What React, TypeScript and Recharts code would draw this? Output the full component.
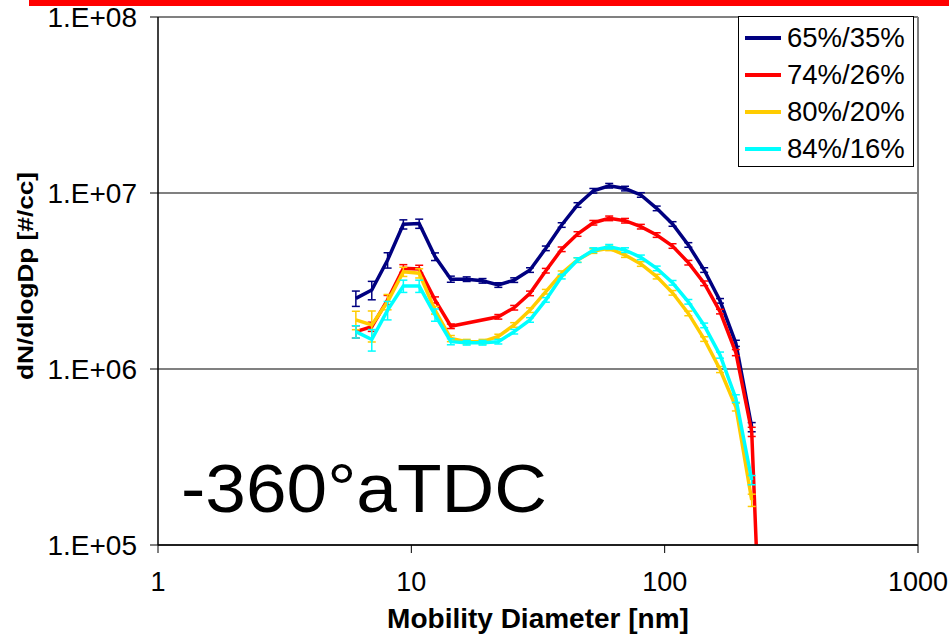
import { LineChart, Line, XAxis, YAxis, CartesianGrid, Legend, ErrorBar, ReferenceLine, Label } from 'recharts'

const FONT = 'Arial, "Liberation Sans", sans-serif'

// mobility diameter bins [nm]
const diameters = [6.04, 6.98, 8.06, 9.3, 10.74, 12.4, 14.32, 16.54, 19.1, 22.05, 25.47, 29.41, 33.96, 39.22, 45.29, 52.3, 60.4, 69.75, 80.54, 93.01, 107.4, 124.0, 143.2, 165.4, 191.0, 220.6, 254.7]

// dN/dlogDp [#/cc]
const mix65 = [2.52e6, 2.81e6, 4.16e6, 6.64e6, 6.7e6, 4.35e6, 3.24e6, 3.24e6, 3.17e6, 3.0e6, 3.2e6, 3.65e6, 4.85e6, 6.58e6, 8.55e6, 1.03e7, 1.1e7, 1.06e7, 9.75e6, 8.18e6, 6.67e6, 5.07e6, 3.65e6, 2.44e6, 1.4e6, 4.68e5, null]
const mix74 = [1.63e6, 1.74e6, 2.47e6, 3.73e6, 3.7e6, 2.47e6, 1.75e6, null, null, 1.98e6, 2.23e6, 2.69e6, 3.62e6, 4.79e6, 5.85e6, 6.78e6, 7.18e6, 6.96e6, 6.44e6, 5.77e6, 5.0e6, 4.02e6, 3.07e6, 2.12e6, 1.24e6, 4.4e5, 2.5e3]
const mix80 = [1.9e6, 1.78e6, 2.41e6, 3.57e6, 3.5e6, 2.16e6, 1.49e6, 1.43e6, 1.43e6, 1.53e6, 1.78e6, 2.16e6, 2.75e6, 3.5e6, 4.16e6, 4.68e6, 4.85e6, 4.44e6, 3.95e6, 3.35e6, 2.71e6, 2.07e6, 1.48e6, 9.94e5, 6.08e5, 1.8e5, null]
const mix84 = [1.63e6, 1.47e6, 2.16e6, 2.96e6, 2.96e6, 2.03e6, 1.43e6, 1.41e6, 1.41e6, 1.43e6, 1.63e6, 1.9e6, 2.47e6, 3.35e6, 4.16e6, 4.74e6, 4.95e6, 4.74e6, 4.31e6, 3.73e6, 3.09e6, 2.41e6, 1.77e6, 1.2e6, 6.8e5, 2.34e5, null]

// error bar half-height, percent of value
const err65 = [10, 12, 10, 6, 6, 5, 4, 3, 3, 3, 3, 3, 3, 3, 3, 3, 3, 3, 3, 3, 3, 3, 3, 3, 4, 6, null]
const err74 = [8, 6, 6, 5, 5, 4, 3, null, null, 3, 3, 3, 3, 3, 3, 3, 3, 3, 3, 3, 3, 3, 3, 3, 4, 6, null]
const err80 = [12, 20, 10, 6, 6, 5, 4, 3, 3, 3, 3, 3, 3, 3, 3, 3, 3, 3, 3, 3, 3, 3, 3, 4, 5, 8, null]
const err84 = [8, 14, 12, 8, 8, 8, 4, 3, 3, 3, 3, 3, 3, 3, 3, 3, 3, 3, 3, 3, 3, 3, 3, 4, 5, 6, null]

const xTicks = [1, 10, 100, 1000]
const yTicks = [1e5, 1e6, 1e7, 1e8]

const series = [
  { key: 's65', err: 'e65', name: '65%/35%', color: '#000080', values: mix65, errs: err65 },
  { key: 's74', err: 'e74', name: '74%/26%', color: '#ff0000', values: mix74, errs: err74 },
  { key: 's80', err: 'e80', name: '80%/20%', color: '#ffcc00', values: mix80, errs: err80 },
  { key: 's84', err: 'e84', name: '84%/16%', color: '#00ffff', values: mix84, errs: err84 },
]

const rows = diameters.map((d, i) => {
  const row: Record<string, number | null> = { d }
  series.forEach((s) => {
    const v = s.values[i]
    const e = s.errs[i]
    row[s.key] = v
    row[s.err] = v != null && e != null ? (v * e) / 100 : null
  })
  return row
})

const fmtY = (v: number) => `1.E+${String(Math.round(Math.log10(v))).padStart(2, '0')}`

function LegendBox() {
  return (
    <div
      style={{
        width: 176,
        height: 151,
        boxSizing: 'border-box',
        border: '1px solid #000',
        background: '#fff',
        paddingTop: 2,
        fontFamily: FONT,
      }}
    >
      {series.map((s) => (
        <div key={s.key} style={{ height: 37, display: 'flex', alignItems: 'center' }}>
          <div style={{ width: 36, height: 4, marginLeft: 6, background: s.color }} />
          <span style={{ marginLeft: 6, fontSize: 27.5, color: '#000', lineHeight: '37px' }}>{s.name}</span>
        </div>
      ))}
    </div>
  )
}

function YTitle(props: any) {
  const vb = props.viewBox || { x: 0, y: 17, width: 158, height: 528 }
  const cx = vb.x + 25
  const cy = vb.y + vb.height / 2 - 5
  return (
    <text
      x={cx}
      y={cy}
      transform={`rotate(-90, ${cx}, ${cy})`}
      textAnchor="middle"
      dominantBaseline="central"
      fontFamily={FONT}
      fontWeight="bold"
      fontSize={22}
      textLength={208}
      lengthAdjust="spacingAndGlyphs"
      fill="#000"
    >
      dN/dlogDp [#/cc]
    </text>
  )
}

export default function App() {
  return (
    <div style={{ position: 'absolute', left: 0, top: 0, width: 949, height: 634, background: '#fff', fontFamily: FONT }}>
      <LineChart width={949} height={634} data={rows} margin={{ top: 17, right: 31, bottom: 0, left: 0 }}>
        <CartesianGrid vertical={false} stroke="#808080" strokeWidth={2} />
        <ReferenceLine x={1000} stroke="#808080" strokeWidth={2} />
        <XAxis
          dataKey="d"
          type="number"
          scale="log"
          domain={[1, 1000]}
          ticks={xTicks}
          allowDataOverflow
          height={89}
          tickSize={8}
          tickMargin={19}
          axisLine={{ stroke: '#000', strokeWidth: 1.5 }}
          tickLine={{ stroke: '#000' }}
          tick={{ fill: '#000', fontSize: 27, fontFamily: FONT }}
        >
          <Label
            value="Mobility Diameter [nm]"
            position="insideBottom"
            offset={6}
            style={{ fontSize: 28, fontWeight: 'bold', fontFamily: FONT, fill: '#000' }}
          />
        </XAxis>
        <YAxis
          type="number"
          scale="log"
          domain={[1e5, 1e8]}
          ticks={yTicks}
          allowDataOverflow
          width={158}
          tickSize={8}
          tickMargin={13}
          tickFormatter={fmtY}
          axisLine={{ stroke: '#000', strokeWidth: 1.5 }}
          tickLine={{ stroke: '#000' }}
          tick={{ fill: '#000', fontSize: 28, fontFamily: FONT }}
        >
          <Label content={<YTitle />} />
        </YAxis>
        <Legend
          layout="vertical"
          align="center"
          verticalAlign="middle"
          wrapperStyle={{ left: 738, top: 16, width: 176, height: 151 }}
          content={() => <LegendBox />}
        />
        {series.map((s) => (
          <Line
            key={s.key}
            dataKey={s.key}
            name={s.name}
            stroke={s.color}
            strokeWidth={3.5}
            dot={false}
            activeDot={false}
            connectNulls
            isAnimationActive={false}
          >
            <ErrorBar dataKey={s.err} width={4} stroke={s.color} strokeWidth={1.5} direction="y" />
          </Line>
        ))}
      </LineChart>
      <div style={{ position: 'absolute', left: 29, top: 0, width: 920, height: 6, background: '#ff0000' }} />
      <svg width={949} height={634} style={{ position: 'absolute', left: 0, top: 0, pointerEvents: 'none' }}>
        <text x={181} y={512} fontFamily={FONT} fontSize={68} fill="#000" textLength={366} lengthAdjust="spacingAndGlyphs">
          -360°aTDC
        </text>
      </svg>
    </div>
  )
}
